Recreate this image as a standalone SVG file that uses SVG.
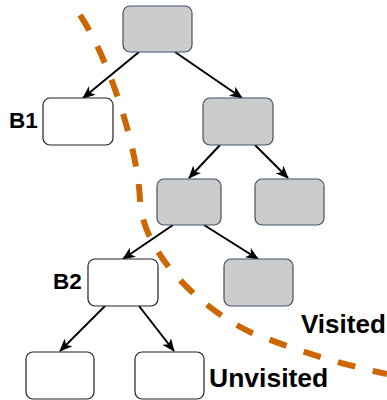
<svg xmlns="http://www.w3.org/2000/svg" width="387" height="400" viewBox="0 0 387 400">
  <defs>
    <style>
      .visited { fill: #cccccc; stroke: #3f5266; stroke-width: 1.2; }
      .unvisited { fill: #ffffff; stroke: #222222; stroke-width: 1.2; }
      .edge { stroke: #000000; stroke-width: 2; fill: none; marker-end: url(#arrow); }
      .frontier { stroke: #cc6600; stroke-width: 6; fill: none; stroke-dasharray: 18 18; }
      .label { font-family: "Liberation Sans", Arial, sans-serif; font-weight: bold; fill: #000000; }
    </style>
    <marker id="arrow" viewBox="0 0 13 11" refX="12" refY="5.5" markerWidth="13" markerHeight="11" markerUnits="userSpaceOnUse" orient="auto">
      <path d="M0,0 L13,5.5 L0,11 L3.5,5.5 Z" fill="#000000"/>
    </marker>
  </defs>

  <!-- tree edges -->
  <g id="edges">
    <line class="edge" x1="139" y1="52" x2="83" y2="98"/>
    <line class="edge" x1="175" y1="52" x2="242" y2="98"/>
    <line class="edge" x1="220" y1="145" x2="189" y2="178"/>
    <line class="edge" x1="255" y1="145" x2="288" y2="178"/>
    <line class="edge" x1="173" y1="225" x2="123" y2="259"/>
    <line class="edge" x1="204" y1="225" x2="258" y2="259"/>
    <line class="edge" x1="105" y1="306" x2="60" y2="351"/>
    <line class="edge" x1="139" y1="306" x2="174" y2="351"/>
  </g>

  <!-- nodes -->
  <g id="root"><rect class="visited" x="123" y="6" width="69" height="46" rx="7"/></g>
  <g id="b1">
    <rect class="unvisited" x="43" y="98" width="70" height="47" rx="7"/>
    <text class="label" x="9" y="128" font-size="22.5">B1</text>
  </g>
  <g id="n-right"><rect class="visited" x="203" y="98" width="70" height="47" rx="7"/></g>
  <g id="n-mid"><rect class="visited" x="157" y="179" width="64" height="46" rx="7"/></g>
  <g id="n-right2"><rect class="visited" x="255" y="179" width="69" height="46" rx="7"/></g>
  <g id="n-low"><rect class="visited" x="224" y="259" width="69" height="47" rx="7"/></g>
  <g id="b2">
    <rect class="unvisited" x="88" y="259" width="70" height="47" rx="7"/>
    <text class="label" x="53" y="289" font-size="22.5">B2</text>
  </g>
  <g id="leaf-left"><rect class="unvisited" x="26" y="352" width="68" height="47" rx="7"/></g>
  <g id="leaf-right"><rect class="unvisited" x="135" y="352" width="69" height="47" rx="7"/></g>

  <!-- frontier between visited and unvisited parts -->
  <g id="frontier">
    <path class="frontier" d="M80,15 C110,60 138,150 140,200 C142,250 195,305 250,332 C300,352 340,364 387,374"/>
    <text class="label" x="301" y="333" font-size="26">Visited</text>
    <text class="label" x="209" y="387" font-size="26.5">Unvisited</text>
  </g>
</svg>
